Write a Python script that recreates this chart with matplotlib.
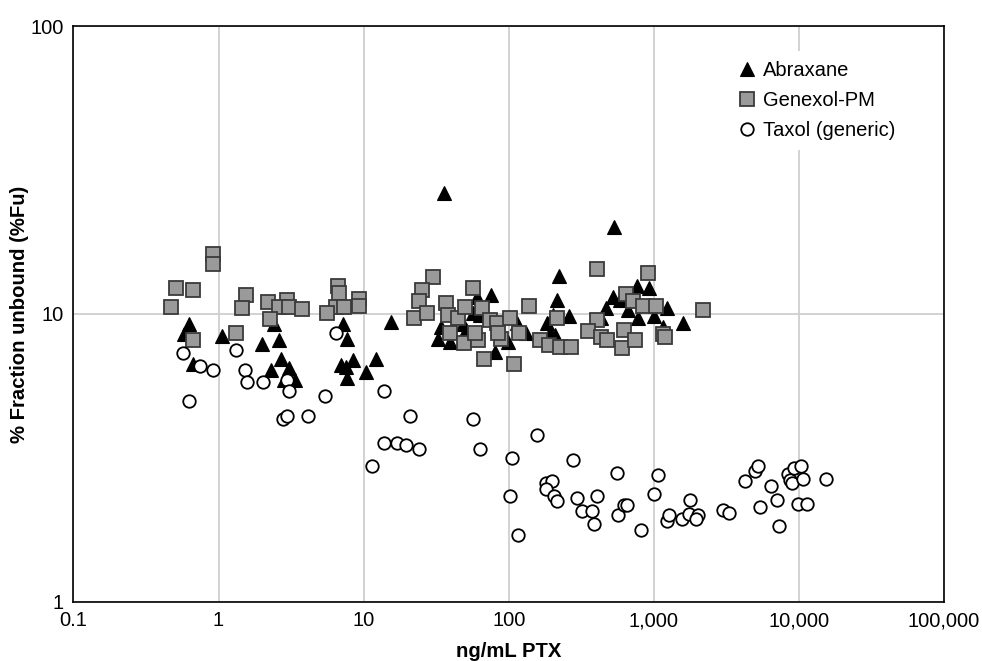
import matplotlib
matplotlib.use('Agg')
import matplotlib.pyplot as plt

# values (ng/mL PTX, % fraction unbound)
abraxane_x = [0.63, 0.58, 0.67, 1.05, 1.99, 2.59, 2.69, 2.30, 3.07, 2.81, 3.38, 2.42,
              7.2, 7.7, 8.5, 7.0, 7.6, 7.7, 10.4, 12.2, 15.4,
              36, 32.8, 34.1, 39.5, 48.3, 50.9, 60, 75.6, 57, 63.5, 80.6, 99.5, 114, 132,
              183, 193, 209, 222, 214, 201, 262,
              532, 466, 526, 585, 667, 770, 931, 775, 1008, 1227, 1152, 1597, 433]
abraxane_y = [9.2, 8.5, 6.7, 8.4, 7.85, 8.1, 7.0, 6.4, 6.5, 5.9, 5.9, 9.2,
              9.2, 8.2, 6.9, 6.65, 6.55, 6.0, 6.3, 7.0, 9.4,
              26.3, 8.2, 9.0, 8.0, 9.2, 8.8, 11.5, 11.6, 10.1, 9.9, 7.4, 8.0, 9.3, 8.6,
              9.3, 8.6, 8.45, 13.6, 11.2, 9.9, 9.8,
              20.0, 10.5, 11.5, 11.2, 10.3, 12.5, 12.3, 9.7, 9.8, 10.5, 9.0, 9.3, 9.7]

genexol_x = [0.92, 0.92, 0.51, 0.67, 0.47, 0.67, 1.55, 1.45, 1.32, 2.19, 2.96, 2.59, 3.07,
             3.76, 2.27, 6.65, 6.8, 6.4, 7.3, 5.6, 9.3, 9.3,
             30.3, 25.4, 23.9, 22.4, 27.3, 37.1, 38.4, 45, 50.1, 57, 65.3, 39.5, 48.8,
             61.3, 74.5, 82.8, 102, 117, 88.2, 84.9, 58.7, 68, 108, 138, 163, 188, 214,
             224, 269, 404, 404, 350, 431, 478, 601, 626, 742, 644, 716, 839, 1036, 908,
             1152, 1194, 2170]
genexol_y = [16.2, 14.9, 12.3, 12.1, 10.6, 8.1, 11.6, 10.5, 8.6, 11.0, 11.2, 10.6, 10.6,
             10.4, 9.6, 12.5, 11.8, 10.6, 10.6, 10.1, 11.3, 10.7,
             13.4, 12.1, 11.1, 9.7, 10.1, 10.9, 9.9, 9.7, 10.6, 12.3, 10.5, 8.6, 7.95,
             8.1, 9.5, 9.3, 9.7, 8.6, 8.2, 8.6, 8.6, 7.0, 6.7, 10.7, 8.1, 7.8, 9.7,
             7.7, 7.7, 14.3, 9.5, 8.75, 8.3, 8.1, 7.6, 8.8, 8.1, 11.7, 11.1, 10.7, 10.7, 13.9,
             8.5, 8.3, 10.3]

taxol_x = [0.57, 0.74, 0.91, 0.63, 1.32, 1.51, 1.56, 2.04, 2.96, 3.06, 2.76, 2.96, 4.13,
           5.44, 6.4, 13.9, 20.9, 13.9, 17.1, 19.7, 23.9, 11.4,
           57, 63.5, 105, 102, 116, 157, 279, 180, 200, 180, 206, 214, 297, 319, 377,
           404, 389, 561, 570, 624, 651, 816, 1074, 1000, 1230, 1273, 1556, 1776, 1756,
           2026, 1953, 3011, 3311, 4270, 5000, 5220, 5390, 6380, 7060, 7280, 8360, 8670,
           9290, 10300, 8900, 10600, 9800, 11300, 15300]
taxol_y = [7.3, 6.6, 6.4, 5.0, 7.5, 6.4, 5.8, 5.8, 5.9, 5.4, 4.3, 4.4, 4.4,
           5.2, 8.6, 5.4, 4.4, 3.56, 3.56, 3.5, 3.4, 2.95,
           4.3, 3.4, 3.16, 2.33, 1.71, 3.8, 3.1, 2.58, 2.63, 2.46, 2.33, 2.24, 2.29, 2.07, 2.07,
           2.33, 1.86, 2.8, 2.0, 2.17, 2.17, 1.77, 2.75, 2.37, 1.90, 2.0, 1.93, 2.25, 2.01,
           2.0, 1.93, 2.08, 2.03, 2.62, 2.84, 2.96, 2.14, 2.53, 2.25, 1.83, 2.78, 2.65,
           2.91, 2.96, 2.58, 2.67, 2.18, 2.18, 2.67]

x_ticks = [0.1, 1, 10, 100, 1000, 10000, 100000]
x_tick_labels = ['0.1', '1', '10', '100', '1,000', '10,000', '100,000']
y_ticks = [1, 10, 100]
y_tick_labels = ['1', '10', '100']

plt.rcParams['font.family'] = ['Liberation Sans', 'DejaVu Sans']

fig = plt.figure(figsize=(9.82, 6.61), dpi=100)
ax = fig.add_axes([0.0748, 0.09, 0.8865, 0.87])

ax.plot(abraxane_x, abraxane_y, ls='none', marker='^', ms=10.5, color='black',
        mec='black', mew=0.8, label='Abraxane', zorder=3)
ax.plot(genexol_x, genexol_y, ls='none', marker='s', ms=10, mfc='#9a9a9a',
        mec='#3a3a3a', mew=1.3, label='Genexol-PM', zorder=4)
ax.plot(taxol_x, taxol_y, ls='none', marker='o', ms=9, mfc='white',
        mec='black', mew=1.3, label='Taxol (generic)', zorder=5)

ax.set_xscale('log')
ax.set_yscale('log')
ax.set_xlim(0.1, 100000)
ax.set_ylim(1, 100)
ax.set_xticks(x_ticks)
ax.set_xticklabels(x_tick_labels)
ax.set_yticks(y_ticks)
ax.set_yticklabels(y_tick_labels)
ax.minorticks_off()
ax.tick_params(length=0, labelsize=14.5, pad=7)

ax.grid(True, color='#cfcfcf', lw=1.3)
ax.set_axisbelow(True)
for s in ax.spines.values():
    s.set_color('black')
    s.set_linewidth(1.2)

ax.set_xlabel('ng/mL PTX', fontsize=14.6, fontweight='bold')
ax.set_ylabel('% Fraction unbound (%Fu)', fontsize=14.6, fontweight='bold')
ax.xaxis.set_label_coords(0.5, -0.071)
ax.yaxis.set_label_coords(-0.051, 0.5)

leg = ax.legend(loc='upper left', bbox_to_anchor=(0.7395, 0.975), fontsize=14.5,
                frameon=True, handlelength=1.0, handletextpad=0.25, labelspacing=0.55,
                borderpad=0.5, fancybox=False)
leg.get_frame().set_edgecolor('none')
leg.get_frame().set_facecolor('white')
leg.get_frame().set_alpha(1)

plt.savefig('out.png', dpi=100)
